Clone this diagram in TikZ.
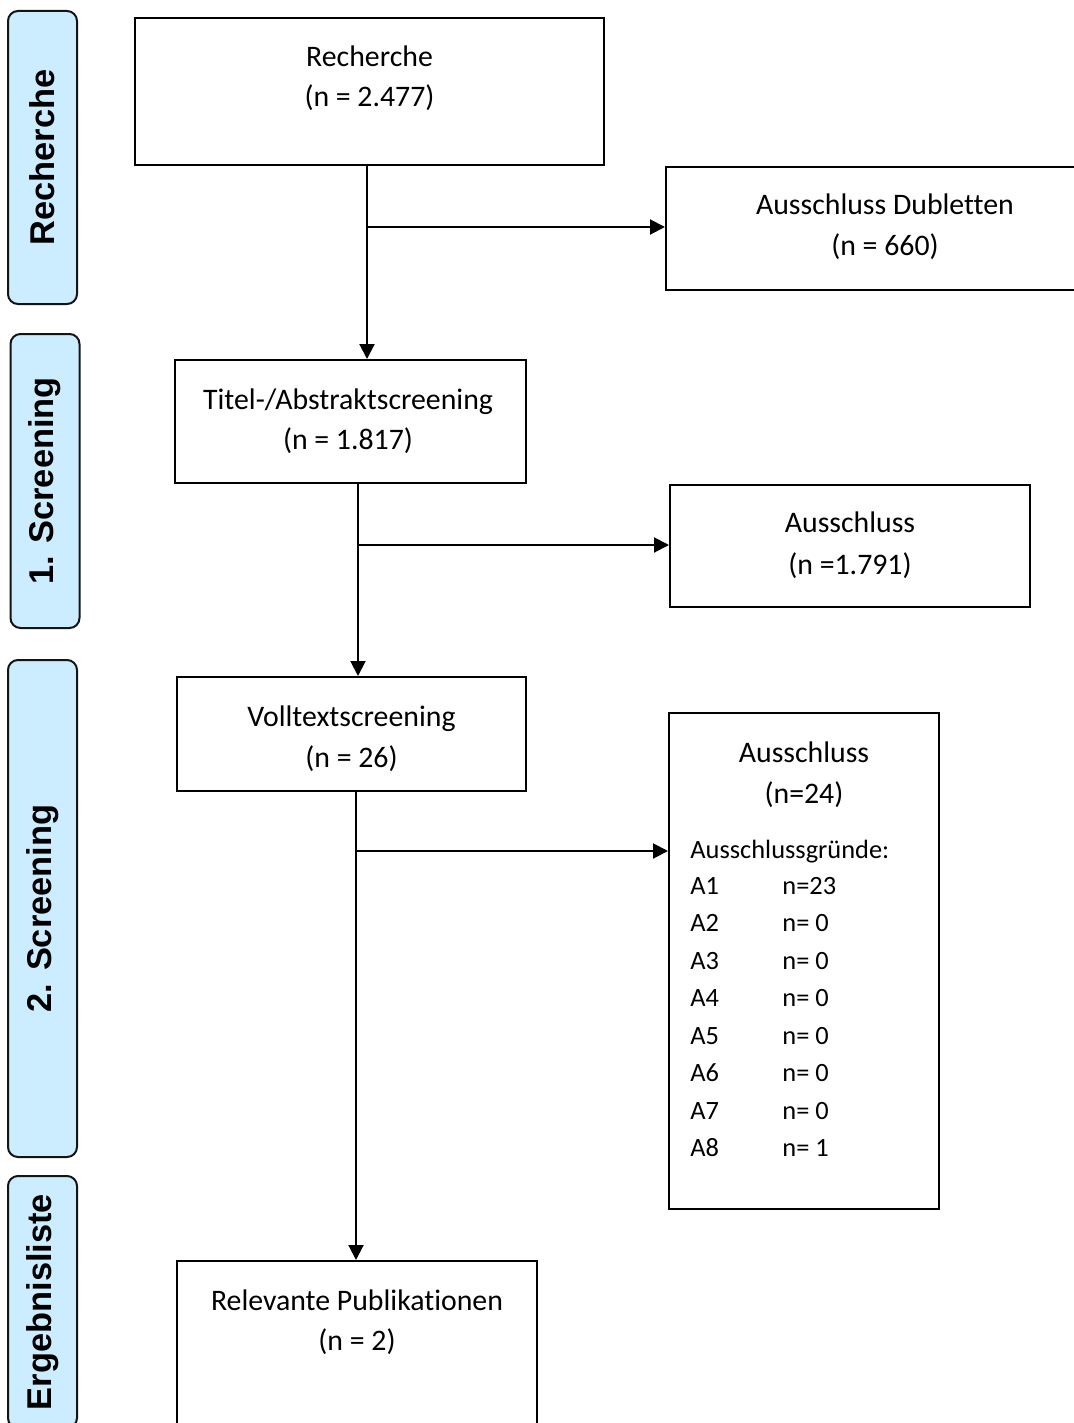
\documentclass[tikz,border=0pt]{standalone}
\usepackage{fontspec}
\setmainfont{Carlito}[Ligatures={NoCommon}]
\newfontfamily\sidefont{Liberation Sans}
\usetikzlibrary{arrows.meta,calc}
\definecolor{lblue}{RGB}{204,236,255}
\definecolor{edge}{RGB}{20,20,20}
\tikzset{
  box/.style={draw=black,line width=1pt,fill=white,minimum width=#1,inner sep=0pt},
  side/.style={draw=edge,line width=1pt,fill=lblue,rounded corners=5pt,minimum width=34.5pt,inner sep=0pt},
  sidetxt/.style={rotate=90,font=\sidefont\bfseries\fontsize{17.2}{20}\selectfont,inner sep=0pt},
  txt/.style={anchor=base,inner sep=0pt,font=\fontsize{14.9}{17}\selectfont},
  ltxt/.style={anchor=base west,inner sep=0pt,font=\fontsize{13.2}{16}\selectfont},
  arr/.style={line width=1pt,-{Triangle[length=7.5pt,width=7.5pt]}},
  ln/.style={line width=1pt}
}
\begin{document}
\begin{tikzpicture}[x=0.5pt,y=-0.5pt]
\clip (0,0) rectangle (1074,1423);
\fill[white] (0,0) rectangle (1074,1423);
% side labels
\node[side,minimum height=146.5pt] (s1) at (42.5,157.5) {};
\node[sidetxt] (s1t) at (s1.center) {Recherche};
\node[side,minimum height=147pt] (s2) at (45,481) {};
\node[sidetxt] (s2t) at (s2.center) {1. Screening};
\node[side,minimum height=248.5pt] (s3) at (42.5,908.5) {};
\node[sidetxt] (s3t) at (s3.center) {2. Screening};
\node[side,minimum height=126pt] (s4) at (42.5,1302) {};
\node[sidetxt] (s4t) at (s4.center) {Ergebnisliste};
% boxes
\node[box=234.5pt,minimum height=73.5pt] (rech) at (369.5,91.5) {};
\node[box=219pt,minimum height=61.5pt] (dub) at (885,228.5) {};
\node[box=175.5pt,minimum height=61.5pt] (titel) at (350.5,421.5) {};
\node[box=180pt,minimum height=61pt] (aus1) at (850,546) {};
\node[box=174.5pt,minimum height=57pt] (voll) at (351.5,734) {};
\node[box=135pt,minimum height=248pt] (aus2) at (804,961) {};
\node[box=180pt,minimum height=89.5pt] (rel) at (357,1350.5) {};
% texts
\node[txt] (rech1) at (369.5,67) {Recherche};
\node[txt] (rech2) at (369.5,107) {(n = 2.477)};
\node[txt] (dub1) at (885,214) {Ausschluss Dubletten};
\node[txt] (dub2) at (885,256) {(n = 660)};
\node[txt] (tit1) at (348,409) {Titel-/Abstraktscreening};
\node[txt] (tit2) at (348,449) {(n = 1.817)};
\node[txt] (a11) at (850,532) {Ausschluss};
\node[txt] (a12) at (850,574) {(n =1.791)};
\node[txt] (vol1) at (351.5,726) {Volltextscreening};
\node[txt] (vol2) at (351.5,767) {(n = 26)};
\node[txt] (a21) at (804,762) {Ausschluss};
\node[txt] (a22) at (804,803) {(n=24)};
\node[ltxt] (gr) at (690,858) {Ausschlussgründe:};
\foreach \i in {1,...,8}{
  \node[ltxt] (ga\i) at (690,{894+37.5*(\i-1)}) {A\i};
}
\node[ltxt] (gn1) at (782,894) {n=23};
\node[ltxt] (gn2) at (782,931.5) {n= 0};
\node[ltxt] (gn3) at (782,969) {n= 0};
\node[ltxt] (gn4) at (782,1006.5) {n= 0};
\node[ltxt] (gn5) at (782,1044) {n= 0};
\node[ltxt] (gn6) at (782,1081.5) {n= 0};
\node[ltxt] (gn7) at (782,1119) {n= 0};
\node[ltxt] (gn8) at (782,1156.5) {n= 1};
\node[txt] (rel1) at (357,1310) {Relevante Publikationen};
\node[txt] (rel2) at (357,1350) {(n = 2)};
% connectors
\coordinate (j1) at (367,227);
\coordinate (j2) at (358,545);
\coordinate (j3) at (356,851);
\draw[arr] (rech.south -| j1) -- (titel.north -| j1);
\draw[arr] (j1) -- (j1 -| dub.west);
\draw[arr] (titel.south -| j2) -- (voll.north -| j2);
\draw[arr] (j2) -- (j2 -| aus1.west);
\draw[arr] (voll.south -| j3) -- (rel.north -| j3);
\draw[arr] (j3) -- (j3 -| aus2.west);
\end{tikzpicture}
\end{document}
